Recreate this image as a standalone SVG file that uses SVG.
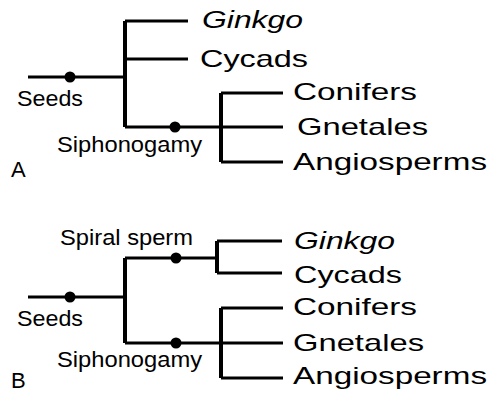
<svg xmlns="http://www.w3.org/2000/svg" width="490" height="394" viewBox="0 0 490 394">
<style>
text{font-family:"Liberation Sans",Arial,sans-serif;fill:#000}
.l{font-size:22px}
.r{font-size:24px}
.i{font-style:italic}
.h{stroke:#000;stroke-width:3;fill:none}
.v{stroke:#000;stroke-width:4;fill:none}
.dot{fill:#000}
</style>
<rect width="490" height="394" fill="#fff"/>
<g id="connectors">
<path class="h" d="M28,77H125M125,21H188M125,59H188M125,127H283M221,93H283M221,162H283"/>
<path class="v" d="M125,21V127M221,93V162"/>
<path class="h" d="M28,297H125M125,258H217M217,241H282M217,273H282M125,343H283M221,308H283M221,378H283"/>
<path class="v" d="M125,258V343M217,241V273M221,308V378"/>
</g>
<g id="A-seeds"><circle class="dot" cx="70" cy="77" r="5.5"/><text class="l" x="17" y="106" textLength="66" lengthAdjust="spacingAndGlyphs">Seeds</text></g>
<g id="A-siphonogamy"><circle class="dot" cx="175" cy="127" r="5.5"/><text class="l" x="57" y="152" textLength="145" lengthAdjust="spacingAndGlyphs">Siphonogamy</text></g>
<g id="A-label"><text class="l" x="11" y="177">A</text></g>
<g id="A-ginkgo"><text class="r i" x="202" y="28" textLength="101" lengthAdjust="spacingAndGlyphs">Ginkgo</text></g>
<g id="A-cycads"><text class="r" x="200" y="67" textLength="108" lengthAdjust="spacingAndGlyphs">Cycads</text></g>
<g id="A-conifers"><text class="r" x="293" y="100" textLength="124" lengthAdjust="spacingAndGlyphs">Conifers</text></g>
<g id="A-gnetales"><text class="r" x="297" y="135" textLength="131" lengthAdjust="spacingAndGlyphs">Gnetales</text></g>
<g id="A-angiosperms"><text class="r" x="293" y="170" textLength="194" lengthAdjust="spacingAndGlyphs">Angiosperms</text></g>
<g id="B-spiral"><circle class="dot" cx="176" cy="258" r="5.5"/><text class="l" x="60" y="245" textLength="133" lengthAdjust="spacingAndGlyphs">Spiral sperm</text></g>
<g id="B-seeds"><circle class="dot" cx="70" cy="297" r="5.5"/><text class="l" x="17" y="326" textLength="66" lengthAdjust="spacingAndGlyphs">Seeds</text></g>
<g id="B-siphonogamy"><circle class="dot" cx="176" cy="343" r="5.5"/><text class="l" x="57" y="367" textLength="145" lengthAdjust="spacingAndGlyphs">Siphonogamy</text></g>
<g id="B-label"><text class="l" x="11" y="388">B</text></g>
<g id="B-ginkgo"><text class="r i" x="294" y="249" textLength="101" lengthAdjust="spacingAndGlyphs">Ginkgo</text></g>
<g id="B-cycads"><text class="r" x="294" y="283" textLength="108" lengthAdjust="spacingAndGlyphs">Cycads</text></g>
<g id="B-conifers"><text class="r" x="293" y="315" textLength="124" lengthAdjust="spacingAndGlyphs">Conifers</text></g>
<g id="B-gnetales"><text class="r" x="293" y="351" textLength="131" lengthAdjust="spacingAndGlyphs">Gnetales</text></g>
<g id="B-angiosperms"><text class="r" x="293" y="384" textLength="194" lengthAdjust="spacingAndGlyphs">Angiosperms</text></g>
</svg>
